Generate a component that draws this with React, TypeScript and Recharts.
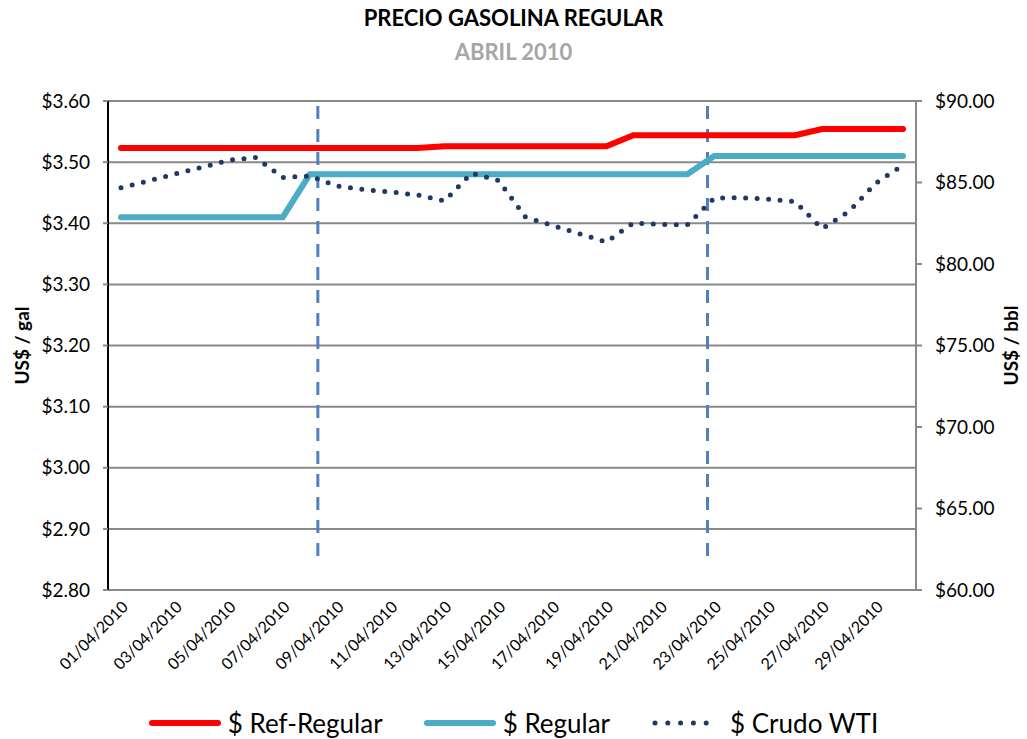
import { LineChart, Line, XAxis, YAxis, CartesianGrid, Legend, ReferenceLine } from "recharts";

const dates = [
  "01/04/2010", "02/04/2010", "03/04/2010", "04/04/2010", "05/04/2010", "06/04/2010",
  "07/04/2010", "08/04/2010", "09/04/2010", "10/04/2010", "11/04/2010", "12/04/2010",
  "13/04/2010", "14/04/2010", "15/04/2010", "16/04/2010", "17/04/2010", "18/04/2010",
  "19/04/2010", "20/04/2010", "21/04/2010", "22/04/2010", "23/04/2010", "24/04/2010",
  "25/04/2010", "26/04/2010", "27/04/2010", "28/04/2010", "29/04/2010", "30/04/2010",
];

const refRegular = [
  3.523, 3.523, 3.523, 3.523, 3.523, 3.523, 3.523, 3.523, 3.523, 3.523, 3.523, 3.523,
  3.526, 3.526, 3.526, 3.526, 3.526, 3.526, 3.526,
  3.544, 3.544, 3.544, 3.544, 3.544, 3.544, 3.544,
  3.554, 3.554, 3.554, 3.554,
];

const regular = [
  3.41, 3.41, 3.41, 3.41, 3.41, 3.41, 3.41,
  3.48, 3.48, 3.48, 3.48, 3.48, 3.48, 3.48, 3.48, 3.48, 3.48, 3.48, 3.48, 3.48, 3.48, 3.48,
  3.51, 3.51, 3.51, 3.51, 3.51, 3.51, 3.51, 3.51,
];

const crudoWti = [
  84.68, 85.09, 85.52, 85.93, 86.37, 86.53, 85.31, 85.4, 84.79, 84.57,
  84.42, 84.23, 83.87, 85.58, 85.12, 82.88, 82.36, 81.86, 81.35, 82.52,
  82.43, 82.4, 84.05, 84.06, 83.98, 83.83, 82.17, 83.23, 84.97, 86.07,
];

const leftTicks = [2.8, 2.9, 3.0, 3.1, 3.2, 3.3, 3.4, 3.5, 3.6];
const rightTicks = [60, 65, 70, 75, 80, 85, 90];

// day index (0 = 01/04) where the dashed period marks sit
const periodMarks = [7.3, 21.75];

const data = dates.map((date, i) => ({
  date,
  refRegular: refRegular[i],
  regular: regular[i],
  wti: crudoWti[i],
}));

const FONT = "Lato, 'Open Sans', sans-serif";
const RED = "#ff0000";
const BLUE = "#4bacc6";
const NAVY = "#1f3864";
const GRID = "#898989";

const legendItems = [
  { name: "$ Ref-Regular", color: RED, dotted: false },
  { name: "$ Regular", color: BLUE, dotted: false },
  { name: "$ Crudo WTI", color: NAVY, dotted: true },
];

const ChartLegend = () => (
  <div style={{ display: "flex", justifyContent: "center", alignItems: "center", height: 30, fontFamily: FONT, fontSize: 26, color: "#000" }}>
    {legendItems.map((item, i) => (
      <div key={item.name} style={{ display: "flex", alignItems: "center", marginRight: i < legendItems.length - 1 ? 41 : 0 }}>
        <svg width={72} height={10} style={{ marginRight: 7 }}>
          {item.dotted ? (
            <line x1={4} y1={5} x2={68} y2={5} stroke={item.color} strokeWidth={5} strokeLinecap="round" strokeDasharray="0 12.8" />
          ) : (
            <line x1={3} y1={5} x2={69} y2={5} stroke={item.color} strokeWidth={6} strokeLinecap="round" />
          )}
        </svg>
        <span>{item.name}</span>
      </div>
    ))}
  </div>
);

const axisTitle = (side: "left" | "right") => (props: any) => {
  const vb = props.viewBox || {};
  const cy = vb.y + vb.height / 2;
  const cx = side === "left" ? vb.x + 21 : vb.x + vb.width - 17;
  return (
    <text
      x={cx}
      y={cy}
      transform={`rotate(-90 ${cx} ${cy})`}
      textAnchor="middle"
      dominantBaseline="central"
      fontFamily={FONT}
      fontSize={19}
      fontWeight={700}
      fill="#000"
    >
      {props.value}
    </text>
  );
};

export default function App() {
  return (
    <div style={{ position: "absolute", left: 0, top: 0, width: 1027, height: 739, background: "#fff" }}>
      <div style={{ position: "absolute", top: 5, width: "100%", textAlign: "center", fontFamily: FONT, fontWeight: 700, fontSize: 22, lineHeight: "26px", color: "#000" }}>
        PRECIO GASOLINA REGULAR
      </div>
      <div style={{ position: "absolute", top: 39, width: "100%", textAlign: "center", fontFamily: FONT, fontWeight: 700, fontSize: 22, lineHeight: "26px", color: "#a6a6a6" }}>
        ABRIL 2010
      </div>
      <LineChart width={1027} height={739} data={data} margin={{ top: 101, right: 0, left: 0, bottom: 1 }}>
        <CartesianGrid yAxisId="left" horizontal vertical={false} stroke={GRID} strokeWidth={2} />
        <XAxis
          dataKey="date"
          interval={1}
          height={118}
          padding={{ left: 13, right: 13 }}
          tickLine={false}
          axisLine={{ stroke: GRID, strokeWidth: 2 }}
          angle={-45}
          textAnchor="end"
          tick={{ fontFamily: FONT, fontSize: 16, fill: "#000" }}
          tickMargin={4}
        />
        <XAxis xAxisId="num" type="number" domain={[0, 29]} padding={{ left: 13, right: 13 }} hide />
        <YAxis
          yAxisId="left"
          width={108}
          domain={[2.8, 3.6]}
          ticks={leftTicks}
          interval={0}
          tickFormatter={(v: number) => `$${v.toFixed(2)}`}
          axisLine={{ stroke: "#000", strokeWidth: 2 }}
          tickLine={{ stroke: GRID, strokeWidth: 2 }}
          tickSize={5}
          tickMargin={13}
          tick={{ fontFamily: FONT, fontSize: 19, fill: "#000" }}
          label={{ value: "US$ / gal", content: axisTitle("left") }}
        />
        <YAxis
          yAxisId="right"
          orientation="right"
          width={111}
          domain={[60, 90]}
          ticks={rightTicks}
          interval={0}
          tickFormatter={(v: number) => `$${v.toFixed(2)}`}
          axisLine={{ stroke: GRID, strokeWidth: 2 }}
          tickLine={{ stroke: GRID, strokeWidth: 2 }}
          tickSize={6}
          tickMargin={13}
          tick={{ fontFamily: FONT, fontSize: 19, fill: "#000" }}
          label={{ value: "US$ / bbl", content: axisTitle("right") }}
        />
        {periodMarks.map((m) => (
          <ReferenceLine
            key={m}
            xAxisId="num"
            yAxisId="left"
            segment={[{ x: m, y: 3.592 }, { x: m, y: 2.843 }]}
            stroke="#4f81bd"
            strokeWidth={3}
            strokeDasharray="13 10"
          />
        ))}
        <Line yAxisId="left" dataKey="refRegular" name="$ Ref-Regular" stroke={RED} strokeWidth={6} strokeLinecap="round" dot={false} isAnimationActive={false} />
        <Line yAxisId="left" dataKey="regular" name="$ Regular" stroke={BLUE} strokeWidth={6} strokeLinecap="round" dot={false} isAnimationActive={false} />
        <Line yAxisId="right" dataKey="wti" name="$ Crudo WTI" type="linear" stroke={NAVY} strokeWidth={5} strokeLinecap="round" strokeDasharray="0 11.5" dot={false} isAnimationActive={false} />
        <Legend verticalAlign="bottom" height={30} content={<ChartLegend />} />
      </LineChart>
    </div>
  );
}
